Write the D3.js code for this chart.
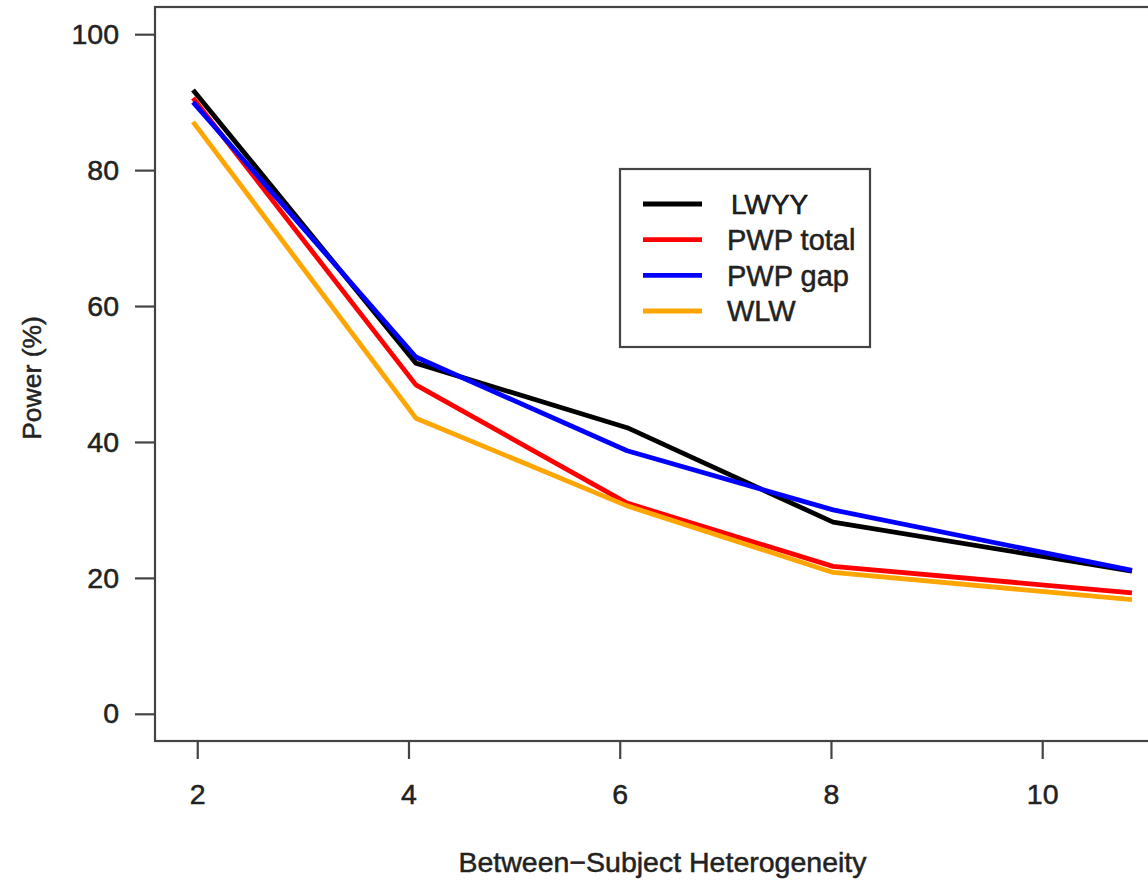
<!DOCTYPE html>
<html>
<head>
  <meta charset="UTF-8">
  <title>Power vs heterogeneity</title>
  <style>
    body { margin: 0; background: #fff; }
    svg { display: block; }
    text { font-family: "Liberation Sans", Arial, sans-serif; fill: #222; stroke: #222; stroke-width: 0.5px; }
  </style>
</head>
<body>
  <div id="chart"></div>
  <script src="https://d3js.org/d3.v7.min.js"></script>
  <script>
    // values
    const xVals = [1.96, 4.07, 6.07, 8.02, 10.85];
    const lwyy = [91.8, 51.6, 42.1, 28.2, 21.0];
    const pwpTotal = [90.6, 48.4, 31.0, 21.7, 17.8];
    const pwpGap = [90.0, 52.5, 38.7, 30.0, 21.1];
    const wlw = [87.1, 43.5, 30.6, 20.8, 16.8];
    const seriesNames = ["LWYY", "PWP total", "PWP gap", "WLW"];
    const seriesColors = ["#000000", "#ff0000", "#0000ff", "#ffa500"];
    const xTicks = [2, 4, 6, 8, 10];
    const yTicks = [0, 20, 40, 60, 80, 100];

    const width = 1148;
    const height = 882;

    const x = d3.scaleLinear().domain([1.6, 11.21]).range([155, 1170]);
    const y = d3.scaleLinear().domain([-4, 104]).range([741, 7]);

    const svg = d3.select("#chart")
      .append("svg")
      .attr("width", width)
      .attr("height", height);

    const allSeries = [lwyy, pwpTotal, pwpGap, wlw];

    const line = d3.line()
      .x((d, i) => x(xVals[i]))
      .y(d => y(d));

    svg.selectAll("path.series")
      .data(allSeries)
      .enter()
      .append("path")
      .attr("class", "series")
      .attr("d", line)
      .attr("fill", "none")
      .attr("stroke", (d, i) => seriesColors[i])
      .attr("stroke-width", 4.8)
      .attr("stroke-linejoin", "round");

    // plot box
    svg.append("rect")
      .attr("x", x.range()[0])
      .attr("y", y.range()[1])
      .attr("width", x.range()[1] - x.range()[0])
      .attr("height", y.range()[0] - y.range()[1])
      .attr("fill", "none")
      .attr("stroke", "#444")
      .attr("stroke-width", 2.2);

    // axes, R style (ticks outside, labels away)
    const xAxis = d3.axisBottom(x)
      .tickValues(xTicks)
      .tickSize(18)
      .tickPadding(25)
      .tickSizeOuter(0);
    const gx = svg.append("g")
      .attr("transform", "translate(0," + y.range()[0] + ")")
      .call(xAxis);

    const yAxis = d3.axisLeft(y)
      .tickValues(yTicks)
      .tickSize(20)
      .tickPadding(16)
      .tickSizeOuter(0);
    const gy = svg.append("g")
      .attr("transform", "translate(" + x.range()[0] + ",0)")
      .call(yAxis);

    [gx, gy].forEach(g => {
      g.select(".domain").remove();
      g.selectAll(".tick line").attr("stroke", "#444").attr("stroke-width", 2.2);
      g.selectAll(".tick text")
        .attr("fill", "#222")
        .style("font-size", "28.5px")
        .style("font-family", '"Liberation Sans", Arial, sans-serif');
    });

    // axis titles
    svg.append("text")
      .attr("x", (x.range()[0] + x.range()[1]) / 2)
      .attr("y", 872)
      .attr("text-anchor", "middle")
      .style("font-size", "28.5px")
      .text("Between\u2212Subject Heterogeneity");

    svg.append("text")
      .attr("transform", "translate(41,378) rotate(-90)")
      .attr("text-anchor", "middle")
      .style("font-size", "26.5px")
      .text("Power (%)");

    // legend
    const legend = svg.append("g");
    legend.append("rect")
      .attr("x", 620)
      .attr("y", 169)
      .attr("width", 250)
      .attr("height", 178)
      .attr("fill", "#fff")
      .attr("stroke", "#444")
      .attr("stroke-width", 2.2);

    const rowY = d3.scalePoint().domain(seriesNames).range([204, 311]);

    seriesNames.forEach((name, i) => {
      legend.append("line")
        .attr("x1", 643)
        .attr("x2", 702)
        .attr("y1", rowY(name))
        .attr("y2", rowY(name))
        .attr("stroke", seriesColors[i])
        .attr("stroke-width", 4.8);
      legend.append("text")
        .attr("x", i === 0 ? 731 : 727)
        .attr("y", rowY(name))
        .attr("dy", "0.36em")
        .attr("fill", i === 0 ? "#000" : "#222")
        .style("stroke", i === 0 ? "#000" : "#222")
        .style("font-size", i === 0 ? "28px" : "29px")
        .text(name);
    });
  </script>
</body>
</html>
